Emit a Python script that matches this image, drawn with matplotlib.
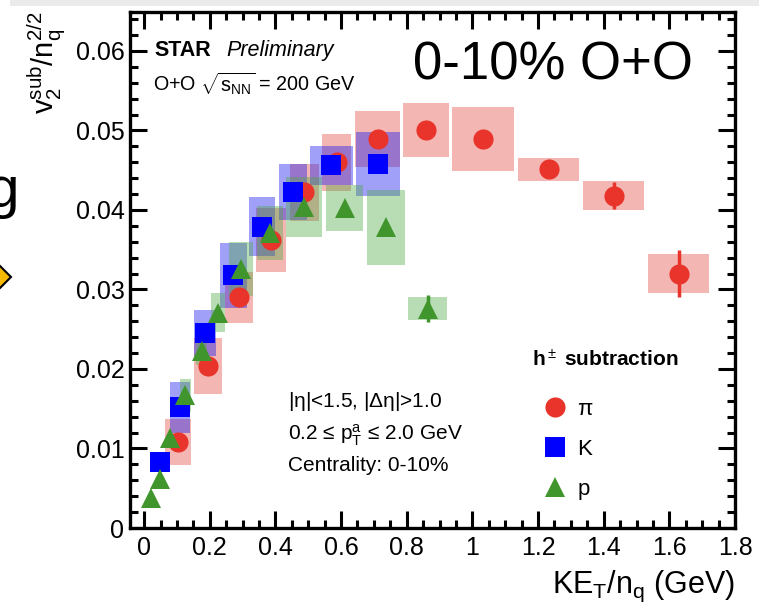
import matplotlib
matplotlib.use("Agg")
import matplotlib.pyplot as plt
from matplotlib.patches import Rectangle
from matplotlib.lines import Line2D
from matplotlib.ticker import MultipleLocator

plt.rcParams['font.family'] = ['Liberation Sans', 'DejaVu Sans']
plt.rcParams['mathtext.fontset'] = 'custom'
plt.rcParams['mathtext.rm'] = 'Liberation Sans'
plt.rcParams['mathtext.it'] = 'Liberation Sans:italic'
plt.rcParams['mathtext.bf'] = 'Liberation Sans:bold'

# pions
pi_x = [0.103, 0.194, 0.290, 0.386, 0.488, 0.587, 0.711, 0.859, 1.033, 1.232, 1.430, 1.628]
pi_y = [0.0108, 0.0204, 0.0290, 0.0362, 0.0422, 0.0460, 0.0489, 0.0500, 0.0489, 0.0451, 0.0418, 0.0320]
pi_stat = [0.0003, 0.0003, 0.0003, 0.0003, 0.0003, 0.0003, 0.0003, 0.0003, 0.0003, 0.0004, 0.0017, 0.0030]
pi_sys = [0.0029, 0.0035, 0.0032, 0.0040, 0.0036, 0.0036, 0.0035, 0.0034, 0.0040, 0.0014, 0.0018, 0.0024]
pi_dx = [0.040, 0.042, 0.043, 0.045, 0.045, 0.044, 0.070, 0.070, 0.094, 0.094, 0.094, 0.093]

# kaons
k_x = [0.047, 0.110, 0.186, 0.272, 0.359, 0.453, 0.570, 0.712]
k_y = [0.0083, 0.0152, 0.0245, 0.0318, 0.0379, 0.0423, 0.0456, 0.0458]
k_stat = [0.0003, 0.0003, 0.0003, 0.0003, 0.0003, 0.0003, 0.0003, 0.0004]
k_sys = [0.0, 0.0032, 0.0029, 0.0041, 0.0037, 0.0035, 0.0024, 0.0040]
k_dx = [0.0, 0.030, 0.034, 0.040, 0.040, 0.043, 0.065, 0.067]

# protons
p_x = [0.021, 0.047, 0.080, 0.126, 0.175, 0.225, 0.295, 0.384, 0.488, 0.611, 0.737, 0.864]
p_y = [0.0038, 0.0062, 0.0113, 0.0167, 0.0223, 0.0271, 0.0326, 0.0371, 0.0404, 0.0402, 0.0378, 0.0276]
p_stat = [0.0003, 0.0003, 0.0003, 0.0003, 0.0003, 0.0003, 0.0003, 0.0003, 0.0004, 0.0004, 0.0005, 0.0017]
p_sys = [0.0, 0.0, 0.0, 0.0021, 0.0018, 0.0025, 0.0034, 0.0034, 0.0038, 0.0029, 0.0047, 0.0015]
p_dx = [0.0, 0.0, 0.0, 0.017, 0.018, 0.021, 0.037, 0.040, 0.055, 0.057, 0.059, 0.059]

species = [
    (pi_x, pi_y, pi_stat, pi_sys, pi_dx, 'o', '#E8342A', (0.89, 0.29, 0.25), r'$\mathregular{\pi}$'),
    (k_x, k_y, k_stat, k_sys, k_dx, 's', '#0000FF', (0.07, 0.07, 0.95), 'K'),
    (p_x, p_y, p_stat, p_sys, p_dx, '^', '#40962D', (0.31, 0.66, 0.27), 'p'),
]

fig = plt.figure(figsize=(7.59, 6.07), dpi=100)
ax = fig.add_axes([130/759, 1-528/607, 605/759, 516/607])

# systematic boxes first
for xs, ys, st, sy, dx, mk, col, boxcol, lab in species:
    for xi, yi, s, d in zip(xs, ys, sy, dx):
        if s > 0 and d > 0:
            ax.add_patch(Rectangle((xi-d, yi-s), 2*d, 2*s, facecolor=boxcol,
                                   alpha=0.4, edgecolor='none', zorder=1))

handles = []
for xs, ys, st, sy, dx, mk, col, boxcol, lab in species:
    ax.errorbar(xs, ys, yerr=st, fmt='none', ecolor=col, elinewidth=2.5, zorder=2)
    ax.plot(xs, ys, linestyle='none', marker=mk, color=col, markersize=14.5,
            markeredgewidth=0, zorder=3)
    handles.append(Line2D([], [], linestyle='none', marker=mk, color=col,
                          markersize=14.5, markeredgewidth=0, label=lab))

ax.set_xlim(-0.043, 1.8)
ax.set_ylim(0, 0.0649)
ax.xaxis.set_minor_locator(MultipleLocator(0.05))
ax.yaxis.set_minor_locator(MultipleLocator(0.002))
ax.set_xticks([0, 0.2, 0.4, 0.6, 0.8, 1.0, 1.2, 1.4, 1.6, 1.8])
ax.set_xticklabels(['0', '0.2', '0.4', '0.6', '0.8', '1', '1.2', '1.4', '1.6', '1.8'])
ax.set_yticks([0, 0.01, 0.02, 0.03, 0.04, 0.05, 0.06])
ax.set_yticklabels(['0', '0.01', '0.02', '0.03', '0.04', '0.05', '0.06'])
ax.tick_params(which='both', direction='in', top=True, right=True, width=2.2,
               labelsize=18)
ax.tick_params(which='major', length=12)
ax.tick_params(which='minor', length=6)
ax.tick_params(axis='x', pad=6)
ax.tick_params(axis='y', pad=4)
for sp in ax.spines.values():
    sp.set_linewidth(2.4)

ax.text(1.0, -0.113, r'KE$_\mathregular{T}$/n$_\mathregular{q}$ (GeV)', transform=ax.transAxes,
        ha='right', va='center', fontsize=22)
ax.text(-0.137, 1.0, r'$\mathregular{v_2^{sub}/n_q^{2/2}}$', transform=ax.transAxes, rotation=90,
        ha='center', va='top', fontsize=21)

ax.text(0.041, 0.926, 'STAR', transform=ax.transAxes, fontsize=15.5,
        fontweight='bold', ha='left', va='center')
ax.text(0.160, 0.926, 'Preliminary', transform=ax.transAxes, fontsize=15.5,
        style='italic', ha='left', va='center')
ax.text(0.038, 0.862, r'O+O $\sqrt{\mathregular{s_{NN}}}$ = 200 GeV', transform=ax.transAxes,
        fontsize=14.2, ha='left', va='center')
ax.text(0.468, 0.897, '0-10% O+O', transform=ax.transAxes, fontsize=38,
        ha='left', va='center')

ax.text(0.261, 0.245, r'|$\mathregular{\eta}$|<1.5, |$\mathregular{\Delta\eta}$|>1.0',
        transform=ax.transAxes, fontsize=15, ha='left', va='center')
ax.text(0.261, 0.180, r'0.2 ≤ p$_\mathregular{T}^\mathregular{a}$ ≤ 2.0 GeV',
        transform=ax.transAxes, fontsize=15, ha='left', va='center')
ax.text(0.261, 0.122, 'Centrality: 0-10%', transform=ax.transAxes, fontsize=15,
        ha='left', va='center')

ax.text(0.664, 0.326, r'h$^\pm$ subtraction', transform=ax.transAxes, fontsize=15,
        fontweight='bold', ha='left', va='center')
ax.legend(handles=handles, loc='upper left', bbox_to_anchor=(0.684, 0.250),
          frameon=False, fontsize=16, handlelength=1.0, handletextpad=0.5,
          labelspacing=0.86, borderpad=0, borderaxespad=0)

# bits of the surrounding slide
fig.patches.append(Rectangle((10/759, 1-6/607), 1, 6/607, transform=fig.transFigure,
                             facecolor='#EBEBEB', edgecolor='none'))
fig.text(-0.018, 1-207/607, 'g', fontsize=42, ha='left', va='baseline')
fig.add_artist(Line2D([-3/759], [1-277/607], transform=fig.transFigure, marker='D',
                      markersize=14, markerfacecolor='#F5BA00', markeredgecolor='black',
                      markeredgewidth=1.5, linestyle='none'))

fig.savefig('out.png', dpi=100)
